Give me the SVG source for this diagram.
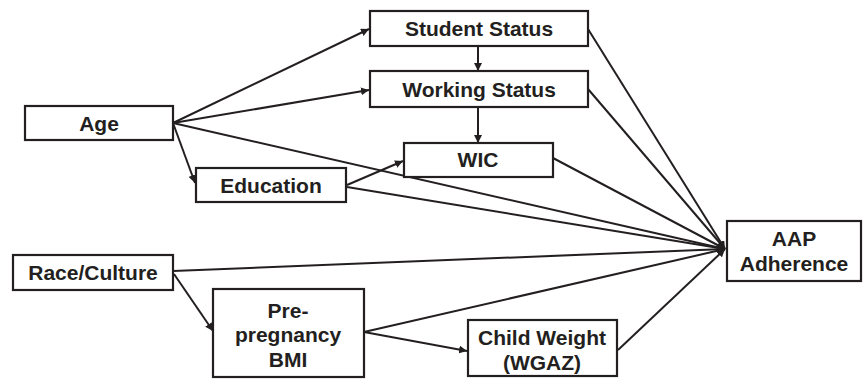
<svg xmlns="http://www.w3.org/2000/svg" width="863" height="381" viewBox="0 0 863 381">
<defs>
<marker id="ah" viewBox="0 0 10 10" refX="10" refY="5" markerWidth="4" markerHeight="4" orient="auto" markerUnits="strokeWidth">
<path d="M0,0 L10,5 L0,10 z" fill="#231f20"/>
</marker>
<style>
.box{fill:#fff;stroke:#231f20;stroke-width:2.2}
.lbl{font-family:"Liberation Sans",Arial,sans-serif;font-weight:bold;font-size:21px;fill:#231f20;text-anchor:middle}
.c line{stroke:#231f20;stroke-width:2;marker-end:url(#ah)}
</style>
</defs>
<rect width="863" height="381" fill="#fff"/>
<g class="c" id="connectors">
<line x1="173" y1="123" x2="369" y2="29"/>
<line x1="173" y1="123" x2="369" y2="90"/>
<line x1="173" y1="123" x2="195" y2="183"/>
<line x1="173" y1="123" x2="725" y2="249"/>
<line x1="478" y1="46" x2="478" y2="71"/>
<line x1="478" y1="107" x2="478" y2="143"/>
<line x1="347" y1="185" x2="403" y2="161"/>
<line x1="347" y1="187" x2="725" y2="249"/>
<line x1="588" y1="29" x2="725" y2="249"/>
<line x1="588" y1="89" x2="725" y2="249"/>
<line x1="553" y1="158" x2="725" y2="249"/>
<line x1="173" y1="271" x2="725" y2="249"/>
<line x1="174" y1="274" x2="213" y2="331"/>
<line x1="364" y1="332" x2="725" y2="249"/>
<line x1="364" y1="332" x2="467" y2="351"/>
<line x1="618" y1="350" x2="725" y2="249"/>
</g>
<g id="age"><rect class="box" x="25" y="106" width="148" height="34"/><text class="lbl" x="99" y="131">Age</text></g>
<g id="student"><rect class="box" x="370" y="11" width="218" height="35"/><text class="lbl" x="479" y="36">Student Status</text></g>
<g id="working"><rect class="box" x="370" y="71" width="218" height="36"/><text class="lbl" x="479" y="97">Working Status</text></g>
<g id="wic"><rect class="box" x="404" y="143" width="149" height="34"/><text class="lbl" x="478" y="167">WIC</text></g>
<g id="education"><rect class="box" x="196" y="168" width="150" height="34"/><text class="lbl" x="271" y="193">Education</text></g>
<g id="race"><rect class="box" x="13" y="255" width="160" height="35"/><text class="lbl" x="93" y="280">Race/Culture</text></g>
<g id="bmi"><rect class="box" x="213" y="289" width="151" height="88"/><text class="lbl" x="288" y="318">Pre-</text><text class="lbl" x="288" y="342">pregnancy</text><text class="lbl" x="288" y="367">BMI</text></g>
<g id="child"><rect class="box" x="468" y="320" width="149" height="56"/><text class="lbl" x="542" y="345">Child Weight</text><text class="lbl" x="542" y="370">(WGAZ)</text></g>
<g id="aap"><rect class="box" x="727" y="221" width="134" height="60"/><text class="lbl" x="794" y="246">AAP</text><text class="lbl" x="794" y="271">Adherence</text></g>
</svg>
